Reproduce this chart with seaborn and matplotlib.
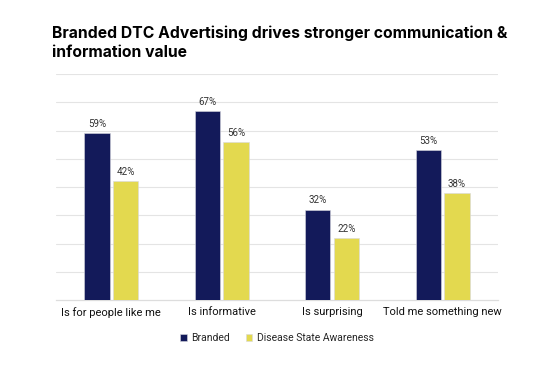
import matplotlib
matplotlib.use("Agg")
import matplotlib.pyplot as plt
import pandas as pd
import seaborn as sns

# data
categories = ["Is for people like me", "Is informative", "Is surprising", "Told me something new"]
branded = [59, 67, 32, 53]
disease_awareness = [42, 56, 22, 38]
series_names = ["Branded", "Disease State Awareness"]

navy = "#131a5a"
yellow = "#e3d94f"

df = pd.DataFrame({
    "category": categories * 2,
    "value": branded + disease_awareness,
    "series": [series_names[0]] * len(categories) + [series_names[1]] * len(categories),
})

sns.set_theme(style="white")
plt.rcParams["font.family"] = ["Roboto", "DejaVu Sans"]

fig = plt.figure(figsize=(5.6, 3.7), dpi=100)
ax = fig.add_axes([0.1, 0.189, 0.789, 0.611])

sns.barplot(data=df, x="category", y="value", hue="series", order=categories,
            hue_order=series_names, palette=[navy, yellow], saturation=1,
            width=0.52, gap=0.12, edgecolor="#d8d8e0", linewidth=0.4,
            ax=ax, legend=True, zorder=3)

for cont in ax.containers:
    ax.bar_label(cont, labels=[f"{v:.0f}%" for v in cont.datavalues],
                 padding=3, fontsize=7, color="#333333")

ax.set_ylim(0, 80)
ax.set_xlim(-0.5, 3.5)
ax.set_yticks(range(10, 81, 10))
ax.set_yticklabels([])
ax.yaxis.grid(True, color="#e4e4e4", linewidth=0.8, zorder=0)
ax.set_axisbelow(True)
for s in ["top", "right", "left"]:
    ax.spines[s].set_visible(False)
ax.spines["bottom"].set_color("#dddddd")
ax.spines["bottom"].set_linewidth(0.9)
ax.tick_params(axis="x", length=0, pad=5, labelsize=8, colors="#111111")
ax.tick_params(axis="y", length=0)
ax.set_xlabel("")
ax.set_ylabel("")

handles, labels = ax.get_legend_handles_labels()
ax.legend(handles, labels, loc="upper center", bbox_to_anchor=(0.5, -0.105), ncol=2,
          frameon=False, fontsize=7.5, handlelength=0.6, handleheight=0.6,
          handletextpad=0.4, columnspacing=1.6)

fig.text(0.093, 0.93, "Branded DTC Advertising drives stronger communication &\ninformation value",
         fontsize=11.3, fontweight="bold", color="#000000", va="top", ha="left",
         linespacing=1.27, family=["Inter", "DejaVu Sans"])

fig.savefig("out.png", dpi=100)
